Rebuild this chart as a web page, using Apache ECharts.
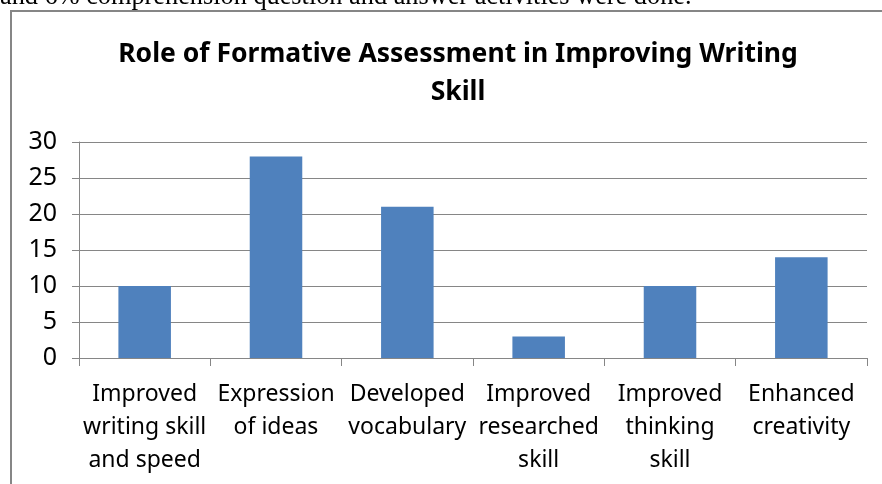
<!DOCTYPE html>
<html>
<head>
<meta charset="utf-8">
<script src="https://cdn.jsdelivr.net/npm/echarts@6/dist/echarts.min.js"></script>
<style>
  html, body { margin: 0; padding: 0; background: #fff; }
  #chart { width: 882px; height: 484px; }
</style>
</head>
<body>
<div id="chart"></div>
<script>
var categories = [
    'Improved\nwriting skill\nand speed',
    'Expression\nof ideas',
    'Developed\nvocabulary',
    'Improved\nresearched\nskill',
    'Improved\nthinking\nskill',
    'Enhanced\ncreativity'
];
var values = [10, 28, 21, 3, 10, 14];
var yTicks = { min: 0, max: 30, step: 5 };

var chart = echarts.init(document.getElementById('chart'));
chart.setOption({
    animation: false,
    backgroundColor: '#fff',
    title: {
        text: 'Role of Formative Assessment in Improving Writing\nSkill',
        left: 453,
        top: 30,
        textAlign: 'center',
        textStyle: {
            fontFamily: 'Noto Sans',
            fontWeight: 'bold',
            fontSize: 26.5,
            lineHeight: 38,
            color: '#000'
        }
    },
    graphic: [
        {
            // sentence from the page above, cut off by the crop
            type: 'text',
            left: 0,
            top: -16,
            style: {
                text: 'and 6% comprehension question and answer activities were done.',
                font: '26.3px "Liberation Serif"',
                fill: '#000'
            }
        },
        {
            type: 'rect',
            shape: { x: 11, y: 11, width: 900, height: 500 },
            style: { fill: 'none', stroke: '#868686', lineWidth: 2 },
            z: -1
        }
    ],
    grid: { left: 79, right: 15, top: 142, bottom: 126 },
    xAxis: {
        type: 'category',
        data: categories,
        axisLine: { show: true, lineStyle: { color: '#868686', width: 1 } },
        axisTick: { show: true, length: 8, lineStyle: { color: '#868686' } },
        axisLabel: {
            interval: 0,
            margin: 20,
            fontFamily: 'Noto Sans',
            fontSize: 23,
            lineHeight: 33,
            color: '#000'
        }
    },
    yAxis: {
        type: 'value',
        min: yTicks.min,
        max: yTicks.max,
        interval: yTicks.step,
        axisLine: { show: true, lineStyle: { color: '#868686', width: 1 } },
        axisTick: { show: true, length: 7, lineStyle: { color: '#868686' } },
        axisLabel: {
            margin: 22,
            fontFamily: 'Noto Sans',
            fontSize: 25,
            color: '#000'
        },
        splitLine: { show: true, lineStyle: { color: '#868686', width: 1 } }
    },
    series: [{
        type: 'bar',
        data: values,
        barWidth: '40%',
        itemStyle: { color: '#4F81BD' }
    }]
});
</script>
</body>
</html>
